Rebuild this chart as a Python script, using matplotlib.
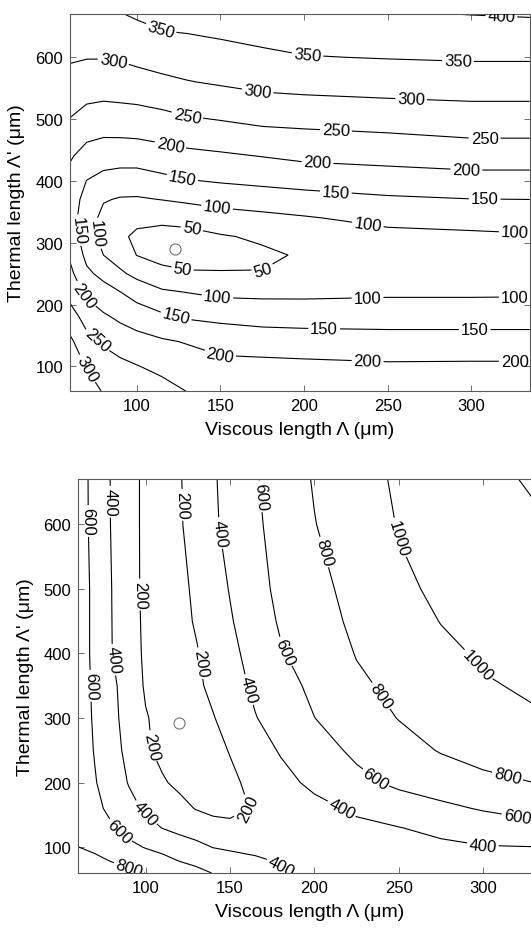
import matplotlib
matplotlib.use("Agg")
import matplotlib.pyplot as plt
import numpy as np

plt.rcParams["font.family"] = ["Liberation Sans", "DejaVu Sans"]

# ---- upper panel: values (rows = thermal length) ----
top_x = [60, 70, 80, 90, 100, 115, 130, 150, 175, 200, 250, 300, 335]
top_y = [60, 100, 140, 180, 220, 250, 280, 310, 340, 370, 400, 440, 480, 520, 560, 600, 640, 670]
top_z = [
    [345, 325, 296, 288, 283, 268, 249, 245, 244, 243, 242, 244, 244],
    [325, 297, 273, 262, 252, 237, 224, 215, 214, 212, 207, 208, 208],
    [310, 265, 244, 228, 217, 206, 197, 181, 176, 172, 169, 169, 169],
    [272, 231, 207, 191, 178, 159, 145, 139, 132, 131, 130, 130, 130],
    [232, 189, 168, 151, 129, 107, 99, 89, 88, 88, 92, 92, 93],
    [212, 159, 137, 108, 87, 63, 55, 53, 52, 62, 77, 80, 81],
    [193, 138, 100, 78, 49, 35, 30, 35, 42, 55, 74, 79, 82],
    [175, 127, 82, 60, 40, 30, 32, 46, 57, 68, 86, 91, 95],
    [168, 127, 85, 68, 64, 63, 69, 80, 88, 96, 114, 119, 122],
    [172, 135, 104, 96, 95, 101, 108, 117, 124, 132, 143, 149, 150],
    [185, 149, 134, 128, 127, 137, 147, 154, 161, 167, 176, 182, 182],
    [205, 182, 172, 170, 171, 180, 187, 193, 201, 210, 216, 223, 223],
    [235, 214, 209, 210, 212, 218, 227, 233, 242, 246, 252, 260, 260],
    [262, 247, 243, 245, 247, 254, 264, 271, 281, 284, 289, 293, 293],
    [285, 275, 274, 276, 281, 290, 298, 305, 313, 317, 321, 325, 325],
    [305, 302, 302, 305, 312, 320, 324, 331, 340, 348, 352, 355, 355],
    [320, 322, 325, 330, 337, 348, 351, 357, 365, 370, 376, 381, 382],
    [330, 337, 342, 348, 356, 362, 368, 375, 383, 390, 396, 401, 404],
]
top_levels = [50, 100, 150, 200, 250, 300, 350, 400]
top_label_pos = [
    (114, 643), (202, 602), (292, 592), (318, 668),
    (86, 594), (172, 541), (264, 530),
    (130, 503), (219, 477), (308, 466),
    (120, 457), (208, 427), (297, 416),
    (127, 403), (219, 382), (308, 371),
    (148, 358), (238, 327), (326, 317),
    (133, 325), (127, 254), (176, 253),
    (63, 320), (74, 315),
    (148, 209), (238, 209), (326, 211),
    (123, 177), (212, 160), (302, 160),
    (68, 214), (150, 120), (238, 107), (326, 109),
    (76, 141), (70, 96),
]
top_mark = (123, 290)

# ---- lower panel ----
bot_x = [60, 70, 80, 90, 100, 110, 120, 130, 140, 150, 165, 180, 200, 225, 250, 275, 300, 335]
bot_y = [60, 80, 100, 130, 160, 200, 250, 300, 350, 400, 450, 500, 600, 670]
bot_z = [
    [900, 880, 860, 840, 798, 750, 700, 650, 595, 550, 485, 420, 370, 350, 345, 345, 345, 345],
    [850, 830, 790, 740, 700, 650, 590, 550, 510, 470, 425, 380, 355, 345, 340, 340, 340, 345],
    [802, 770, 720, 650, 590, 545, 500, 455, 395, 372, 352, 342, 337, 345, 360, 365, 390, 398],
    [760, 700, 620, 530, 465, 395, 345, 300, 245, 230, 265, 285, 320, 360, 395, 445, 500, 555],
    [738, 650, 549, 455, 375, 312, 250, 192, 170, 168, 210, 280, 345, 430, 505, 560, 615, 673],
    [722, 612, 500, 391, 304, 217, 165, 140, 140, 165, 248, 339, 443, 552, 636, 695, 770, 805],
    [712, 588, 471, 350, 225, 158, 128, 125, 150, 208, 314, 416, 521, 636, 726, 812, 846, 893],
    [703, 575, 450, 329, 212, 150, 125, 145, 190, 272, 392, 482, 598, 706, 806, 862, 912, 990],
    [700, 565, 439, 315, 180, 140, 125, 165, 243, 320, 435, 530, 640, 770, 841, 909, 985, 1028],
    [700, 554, 403, 289, 170, 130, 135, 185, 272, 352, 469, 585, 680, 808, 880, 960, 1022, 1058],
    [700, 554, 401, 282, 165, 125, 140, 218, 300, 383, 508, 620, 715, 840, 915, 1005, 1050, 1090],
    [700, 554, 399, 275, 160, 120, 150, 235, 322, 409, 539, 642, 747, 858, 975, 1023, 1077, 1123],
    [695, 538, 388, 262, 165, 118, 180, 276, 371, 454, 569, 669, 794, 907, 1008, 1062, 1133, 1187],
    [690, 538, 385, 262, 165, 120, 185, 287, 380, 464, 584, 687, 814, 930, 1025, 1089, 1152, 1232],
]
bot_levels = [200, 400, 600, 800, 1000, 1200]
bot_label_pos = [
    (65, 605), (67, 350), (78, 635), (80, 390), (95, 491),
    (121, 630), (130, 384), (102, 256), (162, 153),
    (98, 148), (143, 586), (160, 343), (215, 154), (300, 105), (179, 63),
    (167, 643), (182, 402), (235, 202), (320, 143), (84, 123),
    (90, 66), (203, 555), (237, 330), (314, 205),
    (248, 578), (292, 372),
]
bot_mark = (120, 292)

x_ticks = [100, 150, 200, 250, 300]
y_ticks = [100, 200, 300, 400, 500, 600]


def draw_panel(ax, x, y, z, levels, label_pos, mark):
    cs = ax.contour(x, y, np.array(z), levels=levels, colors="black", linewidths=0.8)
    ax.clabel(cs, fmt="%d", fontsize=12, inline=True, inline_spacing=2, manual=label_pos)
    ax.plot(mark[0], mark[1], "o", ms=8, mfc="none", mec="0.45", mew=0.8)
    ax.set_xlim(60, 335)
    ax.set_ylim(60, 670)
    ax.set_xticks(x_ticks)
    ax.set_yticks(y_ticks)
    ax.tick_params(direction="in", length=4, width=0.6, labelsize=12, pad=5,
                   top=True, right=True, color="0.35")
    for sp in ax.spines.values():
        sp.set_color("0.35")
        sp.set_linewidth(0.8)
    ax.set_xlabel("Viscous length \u039b (\u03bcm)", fontsize=14, labelpad=6)
    ax.set_ylabel("Thermal length \u039b' (\u03bcm)", fontsize=14, labelpad=7)


fig = plt.figure(figsize=(5.31, 9.29), dpi=100)
ax_top = fig.add_axes([0.1318, 0.578, 0.866, 0.4058])
ax_bot = fig.add_axes([0.147, 0.0592, 0.874, 0.424])

draw_panel(ax_top, top_x, top_y, top_z, top_levels, top_label_pos, top_mark)
draw_panel(ax_bot, bot_x, bot_y, bot_z, bot_levels, bot_label_pos, bot_mark)

fig.savefig("out.png", dpi=100)
